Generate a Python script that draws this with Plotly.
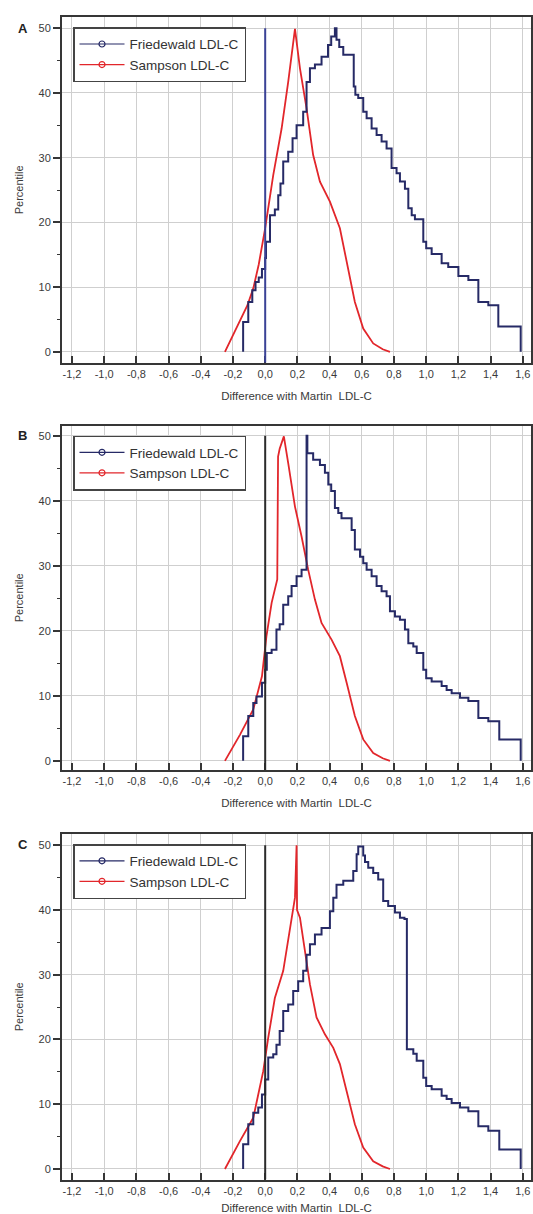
import plotly.graph_objects as go

# ---------------- data ----------------
panel_labels = ["A", "B", "C"]
series_names = ["Friedewald LDL-C", "Sampson LDL-C"]

x_tick_vals = [-1.2, -1.0, -0.8, -0.6, -0.4, -0.2, 0.0, 0.2, 0.4, 0.6, 0.8, 1.0, 1.2, 1.4, 1.6]
x_tick_text = ["-1,2", "-1,0", "-0,8", "-0,6", "-0,4", "-0,2", "0,0", "0,2", "0,4", "0,6", "0,8", "1,0", "1,2", "1,4", "1,6"]
y_tick_vals = [0, 10, 20, 30, 40, 50]

# Panel A - Friedewald (step mountain plot)
fried_x_A = [-0.137, -0.137, -0.105, -0.08, -0.06, -0.04, -0.02, 0.0, 0.005, 0.03, 0.06, 0.081, 0.095, 0.112,
             0.143, 0.17, 0.195, 0.236, 0.257, 0.278, 0.309, 0.35, 0.39, 0.41, 0.433,
             0.443, 0.46, 0.485, 0.55, 0.56, 0.578, 0.609, 0.63, 0.661, 0.692, 0.723, 0.754, 0.785, 0.816,
             0.837, 0.868, 0.889, 0.91, 0.93, 0.982, 1.0, 1.034, 1.096, 1.137, 1.2, 1.262, 1.324, 1.386,
             1.448, 1.587]
fried_y_A = [0, 4.6, 7.7, 9.5, 10.8, 11.5, 12.8, 14.5, 17, 21.1, 22, 24.2, 26, 29.4,
             30.9, 33, 35, 37.1, 41.7, 43.8, 44.4, 45.6, 47.4, 48.7, 50,
             48.2, 47.1, 45.9, 41, 39.7, 39.2, 37.1, 36.1, 34.5, 33.5, 32.5, 31.4, 28.4, 27.6,
             26.3, 25.2, 22.2, 21.1, 20.5, 17, 16, 15.1, 13.7, 13.1, 11.7, 11.1, 7.7, 7.2,
             3.9, 0]
# Panel A - Sampson
samp_x_A = [-0.25, -0.2, -0.157, -0.11, -0.074, -0.04, 0.0, 0.05, 0.102, 0.143, 0.185,
            0.216, 0.257, 0.298, 0.34, 0.402, 0.464, 0.506, 0.557, 0.609, 0.671, 0.73, 0.775]
samp_y_A = [0, 2.6, 4.7, 7.2, 9.8, 13.5, 19.1, 27.3, 34.5, 41.7, 49.9,
            43.8, 37.6, 30.4, 26.3, 23.2, 19.1, 13.9, 7.7, 3.6, 1.3, 0.4, 0]

# Panel B - Friedewald
fried_x_B = [-0.137, -0.137, -0.105, -0.074, -0.054, -0.02, 0.0, 0.01, 0.04, 0.07, 0.09, 0.112, 0.143,
             0.164, 0.195, 0.226, 0.257, 0.257,
             0.262, 0.298, 0.34, 0.371, 0.392, 0.41, 0.433, 0.454, 0.474, 0.537, 0.557, 0.589, 0.609,
             0.63, 0.661, 0.692, 0.723, 0.754, 0.775, 0.806, 0.837, 0.868, 0.889, 0.92, 0.941, 0.982,
             1.0, 1.034, 1.096, 1.127, 1.158, 1.21, 1.262, 1.324, 1.386, 1.454, 1.587]
fried_y_B = [0, 3.8, 6.9, 8.9, 9.9, 12, 14, 16.6, 17.1, 20.2, 21, 24, 25.3,
             26.9, 28.4, 29.4, 30.9, 50,
             47.3, 46.3, 45.5, 44.3, 42.5, 41.5, 38.9, 38.1, 37.3, 35.5, 32.5, 31.4, 30.4,
             29.4, 28.4, 26.9, 26.1, 25.3, 23, 22.2, 21.7, 20.2, 18.1, 17.6, 16.6, 14,
             12.7, 12.2, 11.5, 10.9, 10.4, 9.7, 9.2, 6.6, 6.1, 3.3, 0]
# Panel B - Sampson
samp_x_B = [-0.25, -0.2, -0.157, -0.074, -0.02, 0.008, 0.04, 0.075, 0.08, 0.09, 0.116, 0.143, 0.185,
            0.226, 0.267, 0.309, 0.35, 0.413, 0.464, 0.506, 0.557, 0.609, 0.671, 0.73, 0.775]
samp_y_B = [0, 2.2, 4.0, 7.9, 13, 19.2, 24.3, 27.9, 46.8, 48, 49.9, 45.8, 39.1,
            34.5, 29.4, 24.8, 21.2, 18.6, 16.1, 12, 6.9, 3.3, 1.2, 0.4, 0]

# Panel C - Friedewald
fried_x_C = [-0.137, -0.137, -0.105, -0.074, -0.043, -0.02, 0.0, 0.019, 0.05, 0.07, 0.09, 0.112, 0.143,
             0.174, 0.205, 0.236, 0.257, 0.278, 0.309, 0.35, 0.402, 0.423, 0.443, 0.485, 0.547, 0.568,
             0.578,
             0.609, 0.62, 0.64, 0.671, 0.702, 0.733, 0.764, 0.806, 0.837, 0.865, 0.88, 0.92, 0.941,
             0.982, 1.0, 1.034, 1.096, 1.127, 1.158, 1.21, 1.262, 1.324, 1.386, 1.454, 1.587]
fried_y_C = [0, 3.8, 6.9, 8.7, 9.5, 11.5, 13.8, 17.2, 17.7, 19.2, 21.3, 24.4, 25.4,
             27.5, 29, 30.6, 33.1, 34.7, 36.2, 37.2, 39.8, 41.9, 43.9, 44.5, 46, 48.6,
             49.8,
             48.4, 47.4, 46.5, 45.7, 44.7, 41.4, 40.6, 39.6, 38.8, 38.6, 18.5, 17.8, 16.7,
             14.1, 12.8, 12.3, 11.3, 10.8, 10.2, 9.5, 8.9, 6.6, 5.9, 3.0, 0]
# Panel C - Sampson
samp_x_C = [-0.25, -0.2, -0.157, -0.074, -0.012, 0.019, 0.06, 0.112, 0.153, 0.185, 0.195, 0.198,
            0.216, 0.247, 0.278, 0.319, 0.371, 0.423, 0.464, 0.506, 0.557, 0.609, 0.671, 0.73, 0.775]
samp_y_C = [0, 2.4, 4.3, 7.9, 15.1, 20.3, 26.4, 30.6, 36.7, 41.9, 50, 40,
            38.8, 33.6, 28.5, 23.4, 20.8, 18.7, 16.2, 12, 6.9, 3.3, 1.2, 0.4, 0]

reference_x = 0.0

# ---------------- styling / layout ----------------
W, H = 533, 1214
ML, MR, MT, MB = 62, 2, 17, 34
PH = H - MT - MB
FONT = "Liberation Sans, Arial, sans-serif"
FRIED_COLOR = "#262a66"
SAMP_COLOR = "#e2262b"
REF_COLORS = ["#3a4296", "#2b2b2b", "#2b2b2b"]
GRID = "#cfcfcf"
FRAME = "#363636"
TXT = "#3a3a3a"


def ydom(p_top, p_bot):
    return [(H - MB - p_bot) / PH, (H - MB - p_top) / PH]


def py(p):
    return (H - MB - p) / PH


def px(p):
    return (p - ML) / (W - ML - MR)


panels = [
    dict(fx=fried_x_A, fy=fried_y_A, sx=samp_x_A, sy=samp_y_A, top=17, bot=362.7, yr=[-1.68, 51.73],
         leg_top=27.2, lab_y=28.2),
    dict(fx=fried_x_B, fy=fried_y_B, sx=samp_x_B, sy=samp_y_B, top=425.5, bot=770.1, yr=[-1.42, 51.57],
         leg_top=435.5, lab_y=435.7),
    dict(fx=fried_x_C, fy=fried_y_C, sx=samp_x_C, sy=samp_y_C, top=834, bot=1179.6, yr=[-1.64, 51.73],
         leg_top=844, lab_y=845),
]
x_range = [-1.262, 1.651]

fig = go.Figure()
layout = dict(
    width=W, height=H,
    margin=dict(l=ML, r=MR, t=MT, b=MB, autoexpand=False),
    paper_bgcolor="white", plot_bgcolor="white",
    font=dict(family=FONT, size=11, color=TXT),
    showlegend=True,
)
annotations = []
shapes = []

for i, p in enumerate(panels):
    sfx = "" if i == 0 else str(i + 1)
    xa, ya = "x" + sfx, "y" + sfx
    leg = "legend" + sfx

    # reference line at 0
    shapes.append(dict(type="line", xref=xa, yref=ya, x0=reference_x, x1=reference_x,
                       y0=p["yr"][0], y1=50, line=dict(color=REF_COLORS[i], width=2), layer="above"))

    fig.add_trace(go.Scatter(x=p["sx"], y=p["sy"], mode="lines", line=dict(color=SAMP_COLOR, width=1.8),
                             xaxis=xa, yaxis=ya, showlegend=False, name=series_names[1]))
    fig.add_trace(go.Scatter(x=p["fx"], y=p["fy"], mode="lines", line=dict(color=FRIED_COLOR, width=2, shape="hv"),
                             xaxis=xa, yaxis=ya, showlegend=False, name=series_names[0]))
    # legend entries
    for name, col in zip(series_names, [FRIED_COLOR, SAMP_COLOR]):
        fig.add_trace(go.Scatter(x=[None], y=[None], mode="lines+markers", name=name,
                                 line=dict(color=col, width=1.2),
                                 marker=dict(symbol="circle-open", size=6, color=col, line=dict(width=1.2)),
                                 xaxis=xa, yaxis=ya, legend=leg))

    layout["xaxis" + sfx] = dict(
        domain=[0, 1], anchor=ya, range=x_range, automargin=False,
        tickmode="array", tickvals=x_tick_vals, ticktext=x_tick_text,
        ticks="inside", ticklen=7, tickwidth=1.5, tickcolor=FRAME,
        showgrid=True, gridcolor=GRID, gridwidth=1, zeroline=False,
        showline=True, mirror=True, linecolor=FRAME, linewidth=2,
        tickfont=dict(size=11, color=TXT),
        title=dict(text="Difference with Martin\u00a0 LDL-C", font=dict(size=11.5, color=TXT), standoff=13),
    )
    layout["yaxis" + sfx] = dict(
        domain=ydom(p["top"], p["bot"]), anchor=xa, range=p["yr"], automargin=False,
        tickmode="array", tickvals=y_tick_vals,
        ticks="outside", ticklen=7, tickwidth=1.5, tickcolor=FRAME,
        minor=dict(tickmode="array", tickvals=[5, 15, 25, 35, 45], ticks="outside", ticklen=3,
                   tickwidth=1, tickcolor=FRAME, showgrid=False),
        showgrid=True, gridcolor=GRID, gridwidth=1, zeroline=False,
        showline=True, mirror=True, linecolor=FRAME, linewidth=2,
        tickfont=dict(size=11, color=TXT),
        title=dict(text="Percentile", font=dict(size=11, color=TXT), standoff=13),
    )
    layout[leg] = dict(
        x=px(73), y=py(p["leg_top"]), xanchor="left", yanchor="top",
        bgcolor="white", bordercolor="#444444", borderwidth=1.5,
        font=dict(size=13.5, color="#333333", family=FONT),
        itemwidth=45, tracegroupgap=0,
    )
    annotations.append(dict(text="<b>" + panel_labels[i] + "</b>", xref="paper", yref="paper",
                            x=px(22.5), y=py(p["lab_y"]), xanchor="center", yanchor="middle",
                            showarrow=False, font=dict(size=13, color="#222222")))

layout["annotations"] = annotations
layout["shapes"] = shapes
fig.update_layout(**layout)
fig.write_html("out.html")
